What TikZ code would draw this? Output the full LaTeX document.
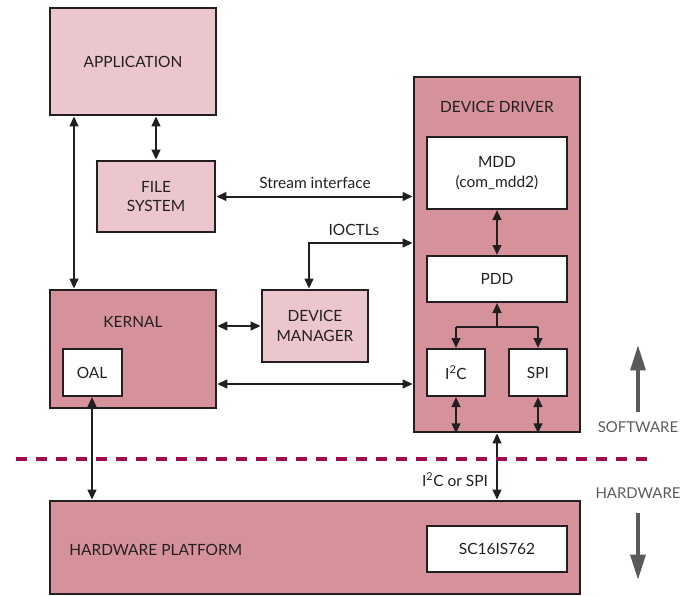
\documentclass[tikz,border=0pt]{standalone}
\usepackage{fontspec}
\setmainfont{Lato}
\usepackage{xcolor}
\usepackage{tikz}
\usetikzlibrary{arrows.meta}

\definecolor{pinklight}{RGB}{235,198,204}
\definecolor{pinkdark}{RGB}{214,146,155}
\definecolor{inkdark}{RGB}{35,31,32}
\definecolor{divider}{RGB}{160,10,78}
\definecolor{sidegray}{RGB}{90,90,92}

\tikzset{
  outerbox/.style={draw=inkdark, line width=2pt, inner sep=0pt, text=inkdark, align=center, font=\fontsize{11.6}{14.5}\selectfont},
  lightbox/.style={outerbox, fill=pinklight},
  darkbox/.style={outerbox, fill=pinkdark},
  whitebox/.style={outerbox, fill=white, line width=1.5pt},
  lbl/.style={inner sep=0pt, text=inkdark, font=\fontsize{11.6}{14.5}\selectfont},
  link/.style={draw=inkdark, line width=1.5pt},
  oneway/.style={link, -{Triangle[length=7.5pt,width=6.5pt]}},
  twoway/.style={link, {Triangle[length=7.5pt,width=6.5pt]}-{Triangle[length=7.5pt,width=6.5pt]}},
  sidelbl/.style={inner sep=0pt, text=sidegray, font=\fontsize{11.2}{13}\selectfont},
  sidearrow/.style={draw=sidegray, line width=3pt, -{Triangle[length=19pt,width=11pt]}},
  dividerline/.style={draw=divider, line width=3pt, dash pattern=on 8.25pt off 6.75pt},
}

\begin{document}
\begin{tikzpicture}[x=0.75pt,y=0.75pt,yscale=-1,xscale=1]
%set diagram left start at 0, and has height of 596
\useasboundingbox (0,0) rectangle (694,596);

%Shape: Rectangle
\node[lightbox, minimum width=124.5pt, minimum height=80.25pt] (app) at (133,61.5) {APPLICATION};
%Shape: Rectangle
\node[lightbox, minimum width=88.5pt, minimum height=53.25pt] (fs) at (156,196.5) {FILE\\SYSTEM};
%Shape: Rectangle
\node[darkbox, minimum width=124.5pt, minimum height=88.5pt] (kern) at (133,349) {};
%Shape: Rectangle
\node[whitebox, minimum width=44.25pt, minimum height=35.25pt] (oal) at (92,372.5) {OAL};
%Shape: Rectangle
\node[lightbox, minimum width=79.5pt, minimum height=54pt] (dm) at (315,326) {DEVICE\\MANAGER};
%Shape: Rectangle
\node[darkbox, minimum width=124.5pt, minimum height=266.25pt] (dd) at (497,254.5) {};
%Shape: Rectangle
\node[whitebox, minimum width=105pt, minimum height=54pt] (mdd) at (497,173) {MDD\\(com\_mdd2)};
%Shape: Rectangle
\node[whitebox, minimum width=105pt, minimum height=34.5pt] (pdd) at (497,279) {PDD};
%Shape: Rectangle
\node[whitebox, minimum width=43.5pt, minimum height=35.25pt] (i2c) at (456,372.5) {I\textsuperscript{2}C};
%Shape: Rectangle
\node[whitebox, minimum width=43.5pt, minimum height=35.25pt] (spi) at (538,372.5) {SPI};
%Shape: Rectangle
\node[darkbox, minimum width=397.5pt, minimum height=69.75pt] (hw) at (315,547.5) {};
%Shape: Rectangle
\node[whitebox, minimum width=105pt, minimum height=34.5pt] (sc) at (497,549) {SC16IS762};

% Text Node
\node[lbl] (kernlbl) at (133,322) {KERNAL};
% Text Node
\node[lbl] (ddlbl) at (497,107) {DEVICE DRIVER};
% Text Node
\node[lbl, anchor=west] (hwlbl) at (69,550) {HARDWARE PLATFORM};

%Straight Lines
\draw[twoway] (app.south -| 74,0) -- (kern.north -| 74,0);
%Straight Lines
\draw[twoway] (app.south -| fs.north) -- (fs.north);
%Straight Lines
\draw[twoway] (fs.east) -- (fs.east -| dd.west);
%Straight Lines
\draw[twoway] (dm.north -| 309,0) |- (dd.west |- 0,243);
%Straight Lines
\draw[twoway] (kern.east |- dm.west) -- (dm.west);
%Straight Lines
\draw[twoway] (kern.east |- 0,384) -- (dd.west |- 0,384);
%Straight Lines
\draw[twoway] (oal.south) -- (hw.north -| oal.south);
%Straight Lines
\draw[twoway] (mdd.south) -- (pdd.north);
%Straight Lines
\coordinate (split) at (497,327);
\draw[oneway] (split) -- (pdd.south);
\draw[link] (i2c.north |- split) -- (spi.north |- split);
\draw[oneway] (i2c.north |- split) -- (i2c.north);
\draw[oneway] (spi.north |- split) -- (spi.north);
%Straight Lines
\draw[twoway] (i2c.south) -- (i2c.south |- dd.south);
\draw[twoway] (spi.south) -- (spi.south |- dd.south);
%Straight Lines
\draw[twoway] (dd.south) -- (dd.south |- hw.north);

% Text Node
\node[lbl] (streamlbl) at (315,183) {Stream interface};
% Text Node
\node[lbl] (ioctllbl) at (354,230) {IOCTLs};
% Text Node
\node[lbl] (buslbl) at (455,480) {I\textsuperscript{2}C or SPI};

%Dashed Line
\draw[dividerline] (16,459) -- (653,459);

% Text Node
\node[sidelbl] (swlbl) at (638,427) {SOFTWARE};
% Text Node
\node[sidelbl] (hwsidelbl) at (638,493) {HARDWARE};
%Straight Lines
\coordinate (swtail) at (638,412);
\coordinate (swtip) at (638,345);
\draw[sidearrow] (swtail) -- (swtip);
\coordinate (hwtail) at (638,513);
\coordinate (hwtip) at (638,580);
\draw[sidearrow] (hwtail) -- (hwtip);
\end{tikzpicture}
\end{document}
